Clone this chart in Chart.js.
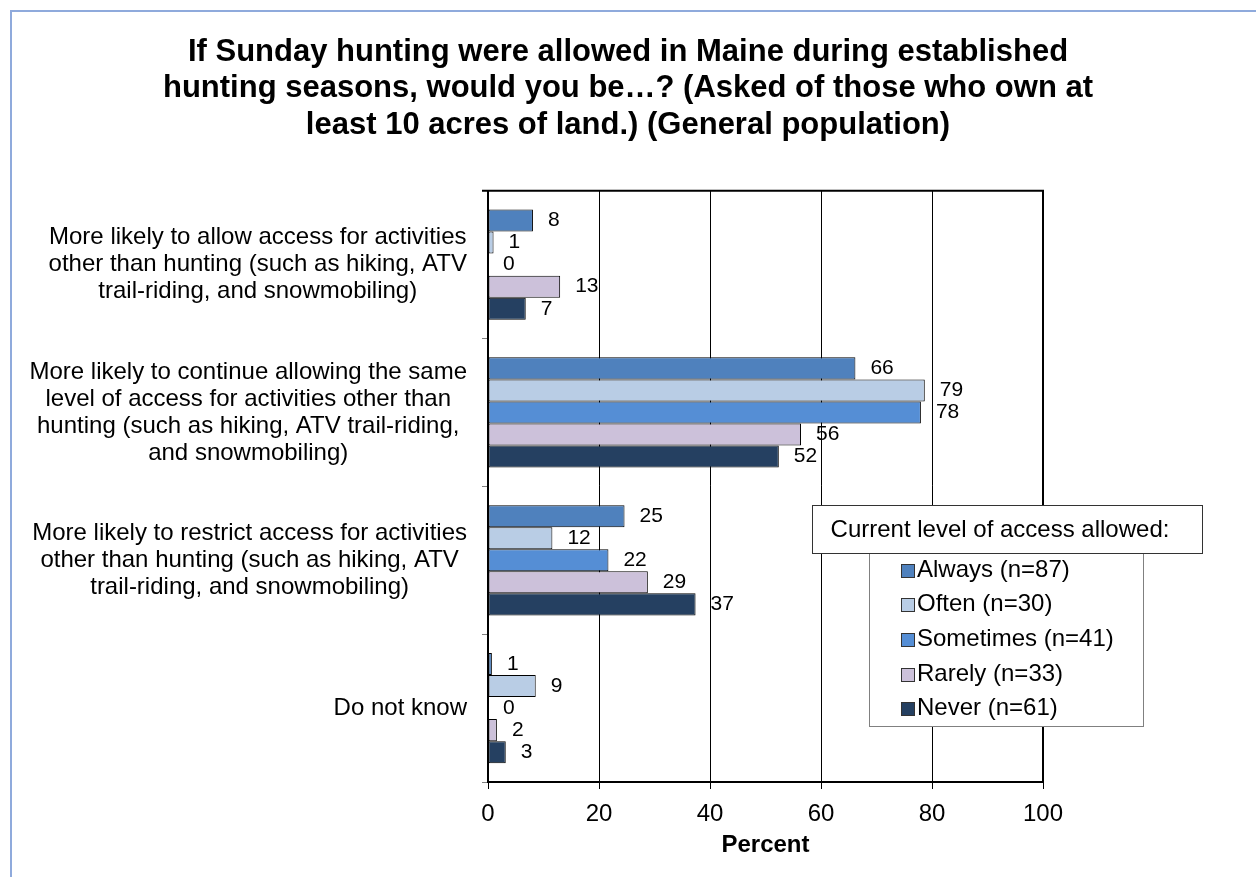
<!DOCTYPE html>
<html>
<head>
<meta charset="utf-8">
<script src="https://cdn.jsdelivr.net/npm/chart.js@4.4.1/dist/chart.umd.min.js"></script>
<style>
html, body { margin: 0; padding: 0; background: #fff; overflow: hidden; }
#frame { position: absolute; left: 10px; top: 10px; width: 1400px; height: 1000px;
         border-left: 2px solid #8faadc; border-top: 2px solid #8faadc; }
#chart { position: absolute; left: 0; top: 0; }
</style>
</head>
<body>
<div id="frame"></div>
<canvas id="chart" width="1256" height="877"></canvas>
<script>
var categories = [
  ['More likely to allow access for activities', 'other than hunting (such as hiking, ATV', 'trail-riding, and snowmobiling)'],
  ['More likely to continue allowing the same', 'level of access for activities other than', 'hunting (such as hiking, ATV trail-riding,', 'and snowmobiling)'],
  ['More likely to restrict access for activities', 'other than hunting (such as hiking, ATV', 'trail-riding, and snowmobiling)'],
  ['Do not know']
];
var seriesNames = ['Always (n=87)', 'Often (n=30)', 'Sometimes (n=41)', 'Rarely (n=33)', 'Never (n=61)'];
var seriesColors = ['#4f81bd', '#b9cde5', '#558ed5', '#ccc1da', '#254061'];
var always    = [8.1, 66.2, 24.6, 0.7];
var often     = [1.0, 78.7, 11.6, 8.6];
var sometimes = [0, 78.0, 21.7, 0];
var rarely    = [13.0, 56.4, 28.8, 1.6];
var never     = [6.8, 52.4, 37.4, 3.2];
var xTicks = [0, 20, 40, 60, 80, 100];

var FONT = '"Liberation Sans", Arial, sans-serif';

var extras = {
  id: 'extras',
  afterDatasetsDraw: function (chart) {
    var ctx = chart.ctx, a = chart.chartArea;
    ctx.save();
    // top and right frame of the plot
    ctx.strokeStyle = '#000';
    ctx.lineWidth = 2;
    ctx.beginPath();
    ctx.moveTo(a.left - 6, a.top);
    ctx.lineTo(a.right, a.top);
    ctx.lineTo(a.right, a.bottom);
    ctx.stroke();
    // value labels
    ctx.fillStyle = '#000';
    ctx.font = '21px ' + FONT;
    ctx.textAlign = 'left';
    ctx.textBaseline = 'middle';
    chart.data.datasets.forEach(function (ds, i) {
      chart.getDatasetMeta(i).data.forEach(function (bar, j) {
        ctx.fillText(String(Math.round(ds.data[j])), bar.x + 15, bar.y);
      });
    });
    ctx.restore();
  },
  afterDraw: function (chart) {
    var ctx = chart.ctx, a = chart.chartArea;
    var y = chart.scales.y;
    ctx.save();
    // category labels: block right aligned, lines centred
    ctx.fillStyle = '#000';
    ctx.font = '24px ' + FONT;
    ctx.textAlign = 'center';
    ctx.textBaseline = 'middle';
    categories.forEach(function (lines, i) {
      var w = 0;
      lines.forEach(function (l) { w = Math.max(w, ctx.measureText(l).width); });
      var cx = a.left - 21 - w / 2;
      var cy = y.getPixelForValue(i);
      var lh = 27;
      lines.forEach(function (l, k) {
        ctx.fillText(l, cx, cy - (lines.length - 1) * lh / 2 + k * lh);
      });
    });
    // legend
    ctx.lineWidth = 1;
    ctx.fillStyle = '#fff';
    ctx.strokeStyle = '#808080';
    ctx.fillRect(869.5, 553.5, 274, 173);
    ctx.strokeRect(869.5, 553.5, 274, 173);
    ctx.strokeStyle = '#333';
    ctx.fillRect(812.5, 505.5, 390, 48);
    ctx.strokeRect(812.5, 505.5, 390, 48);
    ctx.fillStyle = '#000';
    ctx.font = '24px ' + FONT;
    ctx.fillText('Current level of access allowed:', 1000, 530);
    ctx.textAlign = 'left';
    chart.data.datasets.forEach(function (ds, i) {
      var iy = 570 + i * 34.7;
      ctx.fillStyle = ds.backgroundColor;
      ctx.fillRect(901.5, Math.round(iy - 6.5) + 0.5, 13, 13);
      ctx.strokeStyle = '#333';
      ctx.strokeRect(901.5, Math.round(iy - 6.5) + 0.5, 13, 13);
      ctx.fillStyle = '#000';
      ctx.fillText(ds.label, 917, iy);
    });
    ctx.restore();
  }
};

var seriesData = [always, often, sometimes, rarely, never];

new Chart(document.getElementById('chart'), {
  type: 'bar',
  data: {
    labels: categories.map(function (c) { return c.join(' '); }),
    datasets: seriesNames.map(function (name, i) {
      return {
        label: name,
        data: seriesData[i],
        backgroundColor: seriesColors[i],
        borderColor: '#000',
        borderWidth: 1,
        borderSkipped: false,
        categoryPercentage: 0.746,
        barPercentage: 1
      };
    })
  },
  options: {
    indexAxis: 'y',
    responsive: false,
    animation: false,
    layout: { padding: { left: 0, right: 0, top: 34, bottom: 17 } },
    plugins: {
      legend: { display: false },
      tooltip: { enabled: false },
      title: {
        display: true,
        text: ['If Sunday hunting were allowed in Maine during established',
               'hunting seasons, would you be\u2026? (Asked of those who own at',
               'least 10 acres of land.) (General population)'],
        color: '#000',
        font: { family: FONT, size: 31, weight: 'bold', lineHeight: 1.18 },
        padding: { top: 0, bottom: 47 }
      }
    },
    scales: {
      x: {
        min: 0,
        max: 100,
        afterBuildTicks: function (s) { s.ticks = xTicks.map(function (v) { return { value: v }; }); },
        afterFit: function (s) { s.height = 78; },
        grid: { color: '#000', lineWidth: 1, tickLength: 7 },
        border: { color: '#000', width: 2 },
        ticks: { color: '#000', font: { family: FONT, size: 24 }, padding: 11 },
        title: {
          display: true,
          text: 'Percent',
          color: '#000',
          font: { family: FONT, size: 24, weight: 'bold' },
          padding: { top: 4, bottom: 0 }
        }
      },
      y: {
        afterFit: function (s) { s.width = 488; },
        grid: { drawOnChartArea: false, color: '#808080', tickLength: 6, offset: true },
        border: { color: '#000', width: 2 },
        ticks: { display: false }
      },
      // empty right-hand margin so the title centres on the whole page
      side: {
        type: 'linear',
        position: 'right',
        afterFit: function (s) { s.width = 213; },
        grid: { display: false },
        border: { display: false },
        ticks: { display: false }
      }
    }
  },
  plugins: [extras]
});
</script>
</body>
</html>
